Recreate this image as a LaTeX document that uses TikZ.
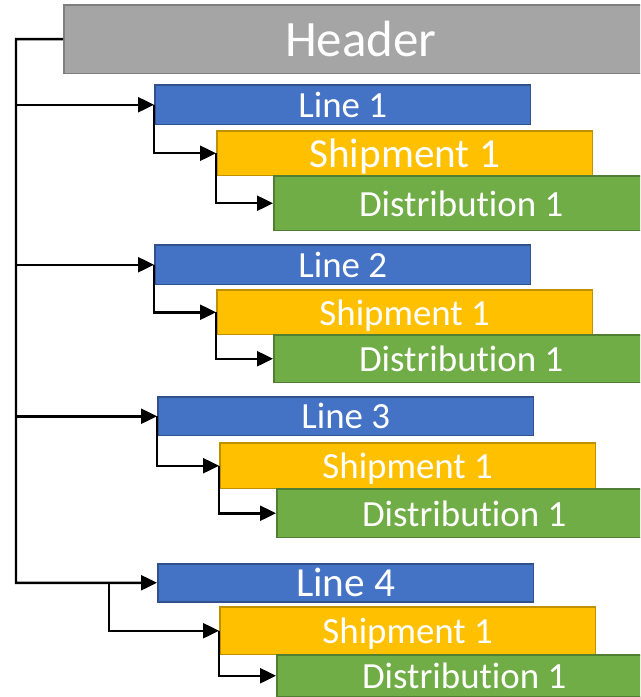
\documentclass[tikz,border=0pt]{standalone}
\usepackage{fontspec}
\setmainfont{Carlito}[Ligatures=NoCommon]
\usepackage{xcolor}
\usepackage{tikz}
\usetikzlibrary{arrows.meta}

\definecolor{hdrgray}{HTML}{A5A5A5}
\definecolor{hdrgrayline}{HTML}{7F7F7F}
\definecolor{lineblue}{HTML}{4472C4}
\definecolor{lineblueline}{HTML}{2F528F}
\definecolor{shipgold}{HTML}{FFC000}
\definecolor{shipgoldline}{HTML}{BF9000}
\definecolor{distgreen}{HTML}{70AD47}
\definecolor{distgreenline}{HTML}{507E32}

\begin{document}
\begin{tikzpicture}[x=0.02cm,y=-0.02cm]
        % \tikzstyle{every path}=[very thick]

        \edef\sizebar{7.52cm}
        \tikzstyle{box}=[draw,line width=0.03cm,anchor=north west,text=white,inner sep=0pt,text depth=0pt,font=\fontsize{21}{25}\selectfont]
        \tikzstyle{hdrbox}=[box,fill=hdrgray,draw=hdrgrayline,minimum width=11.88cm,minimum height=1.38cm,font=\fontsize{29}{35}\selectfont]
        \tikzstyle{linebox}=[box,fill=lineblue,draw=lineblueline,minimum width=\sizebar,minimum height=0.8cm]
        \tikzstyle{shipbox}=[box,fill=shipgold,draw=shipgoldline,minimum width=\sizebar,minimum height=0.9cm]
        \tikzstyle{distbox}=[box,fill=distgreen,draw=distgreenline,minimum width=7.5cm,minimum height=0.98cm]
        \tikzstyle{link}=[-{Triangle[length=0.32cm,width=0.3cm]},line width=0.05cm]

        \useasboundingbox (0,0) rectangle (640,697);
        \clip (0,0) rectangle (640,697);

        %% Header
        \node [hdrbox] (hdr) at (63,4) {Header};
        \coordinate (trunk) at (16,39);

        %% Group 1
        \node [linebox] (line1) at (154,84) {Line 1};
        \node [shipbox,font=\fontsize{23.5}{28}\selectfont] (ship1) at (216,130) {Shipment 1};
        \node [distbox,minimum height=1.1cm] (dist1) at (273,175) {Distribution 1};

        %% Group 2
        \node [linebox] (line2) at (154,244) {Line 2};
        \node [shipbox] (ship2) at (216,289) {Shipment 1};
        \node [distbox,minimum height=0.96cm] (dist2) at (273,334) {Distribution 1};

        %% Group 3
        \node [linebox,minimum height=0.78cm] (line3) at (157,396) {Line 3};
        \node [shipbox,minimum height=0.92cm] (ship3) at (219,442) {Shipment 1};
        \node [distbox] (dist3) at (276,488) {Distribution 1};

        %% Group 4
        \node [linebox,minimum height=0.76cm,font=\fontsize{23.5}{28}\selectfont] (line4) at (157,563) {Line 4};
        \node [shipbox,minimum height=0.96cm] (ship4) at (219,606) {Shipment 1};
        \node [distbox,minimum height=0.84cm] (dist4) at (276,654) {Distribution 1};

        %% Connectors
        \draw [link] (hdr.west) -- (trunk) |- (line4.west);
        \foreach \g in {1,2,3} {
            \draw [link] (trunk |- line\g.west) -- (line\g.west);
            \draw [link] (line\g.west) |- (ship\g.west);
            \draw [link] (ship\g.west) |- (dist\g.west);
        }
        \path (line4.west) ++(-48,0) coordinate (fork4);
        \draw [link] (fork4) |- (ship4.west);
        \draw [link] (ship4.west) |- (dist4.west);

\end{tikzpicture}
\end{document}
